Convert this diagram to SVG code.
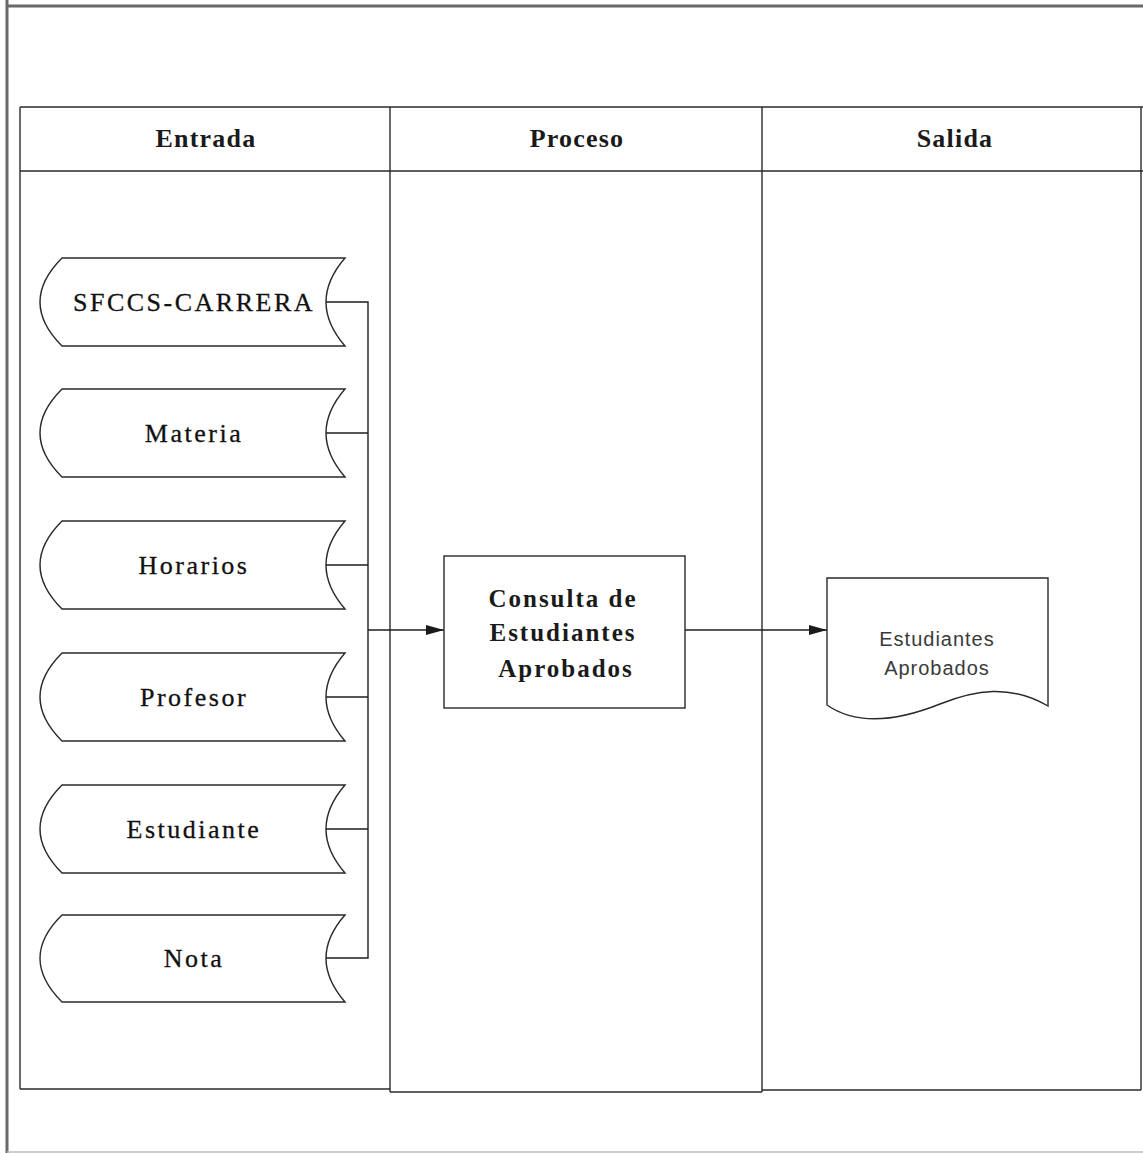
<svg xmlns="http://www.w3.org/2000/svg" width="1143" height="1153" viewBox="0 0 1143 1153">
<style>
.frame{fill:none;stroke:#6a6a6a;stroke-width:3}
.grid{fill:none;stroke:#2a2a2a;stroke-width:1.4}
.shape{fill:#fff;stroke:#2a2a2a;stroke-width:1.4}
.conn{fill:none;stroke:#1e1e1e;stroke-width:1.4}
.hdr{font-family:"Liberation Serif",serif;font-size:26px;font-weight:bold;letter-spacing:1.2px;fill:#1a1a1a;text-anchor:middle}
.in{font-family:"Liberation Serif",serif;font-size:26px;letter-spacing:2.5px;fill:#111;text-anchor:middle;stroke:#111;stroke-width:0.3}
.proc{font-family:"Liberation Serif",serif;font-size:25px;font-weight:bold;letter-spacing:2px;fill:#1a1a1a;text-anchor:middle}
.out{font-family:"Liberation Sans",sans-serif;font-size:20px;letter-spacing:1px;fill:#3a3a3a;text-anchor:middle}
</style>
<defs>
<marker id="arr" viewBox="0 0 18 12" refX="18" refY="6" markerWidth="18" markerHeight="12" markerUnits="userSpaceOnUse" orient="auto">
<path d="M0,1 L18,6 L0,11 Z" fill="#1a1a1a"/>
</marker>
</defs>
<rect width="1143" height="1153" fill="#fff"/>
<g id="frame">
<line class="frame" x1="7" y1="0" x2="7" y2="1153"/>
<line class="frame" x1="7" y1="6" x2="1143" y2="6"/>
<line x1="7" y1="1152" x2="1143" y2="1152" stroke="#bdbdbd" stroke-width="1.5"/>
</g>
<g id="lanes">
<line class="grid" x1="20" y1="107" x2="1143" y2="107"/>
<line class="grid" x1="20" y1="171" x2="1143" y2="171"/>
<line class="grid" x1="20" y1="107" x2="20" y2="1089"/>
<line class="grid" x1="390" y1="107" x2="390" y2="1092"/>
<line class="grid" x1="762" y1="107" x2="762" y2="1092"/>
<line class="grid" x1="1141" y1="107" x2="1141" y2="1090" stroke="#9a9a9a"/>
<line class="grid" x1="20" y1="1089" x2="390" y2="1089"/>
<line class="grid" x1="390" y1="1092" x2="762" y2="1092"/>
<line class="grid" x1="762" y1="1090" x2="1141" y2="1090"/>
<text class="hdr" x="206" y="147">Entrada</text>
<text class="hdr" x="577" y="147">Proceso</text>
<text class="hdr" x="955" y="147">Salida</text>
</g>
<g id="connectors">
<path class="conn" d="M326,302 H368 V958 H326"/>
<line class="conn" x1="326" y1="433" x2="368" y2="433"/>
<line class="conn" x1="326" y1="565" x2="368" y2="565"/>
<line class="conn" x1="326" y1="697" x2="368" y2="697"/>
<line class="conn" x1="326" y1="829" x2="368" y2="829"/>
<line class="conn" x1="368" y1="630" x2="444" y2="630" marker-end="url(#arr)"/>
<line class="conn" x1="685" y1="630" x2="827" y2="630" marker-end="url(#arr)"/>
</g>
<g id="n-sfccs">
<path class="shape" d="M62,258 H345 Q307,302 345,346 H62 Q18,302 62,258 Z"/>
<text class="in" x="194" y="311">SFCCS-CARRERA</text>
</g>
<g id="n-materia">
<path class="shape" d="M62,389 H345 Q307,433 345,477 H62 Q18,433 62,389 Z"/>
<text class="in" x="194" y="442">Materia</text>
</g>
<g id="n-horarios">
<path class="shape" d="M62,521 H345 Q307,565 345,609 H62 Q18,565 62,521 Z"/>
<text class="in" x="194" y="574">Horarios</text>
</g>
<g id="n-profesor">
<path class="shape" d="M62,653 H345 Q307,697 345,741 H62 Q18,697 62,653 Z"/>
<text class="in" x="194" y="706">Profesor</text>
</g>
<g id="n-estudiante">
<path class="shape" d="M62,785 H345 Q307,829 345,873 H62 Q18,829 62,785 Z"/>
<text class="in" x="194" y="838">Estudiante</text>
</g>
<g id="n-nota">
<path class="shape" d="M62,915 H345 Q307,958 345,1002 H62 Q18,958 62,915 Z"/>
<text class="in" x="194" y="967">Nota</text>
</g>
<g id="n-proceso">
<rect class="shape" x="444" y="556" width="241" height="152"/>
<text class="proc" x="563" y="607">Consulta de</text>
<text class="proc" x="563" y="641">Estudiantes</text>
<text class="proc" x="566" y="677">Aprobados</text>
</g>
<g id="n-salida">
<path class="shape" d="M827,578 H1048 V706 C1010,684 975,690 940,704 C905,718 860,728 827,705 Z"/>
<text class="out" x="937" y="646">Estudiantes</text>
<text class="out" x="937" y="675">Aprobados</text>
</g>
</svg>
